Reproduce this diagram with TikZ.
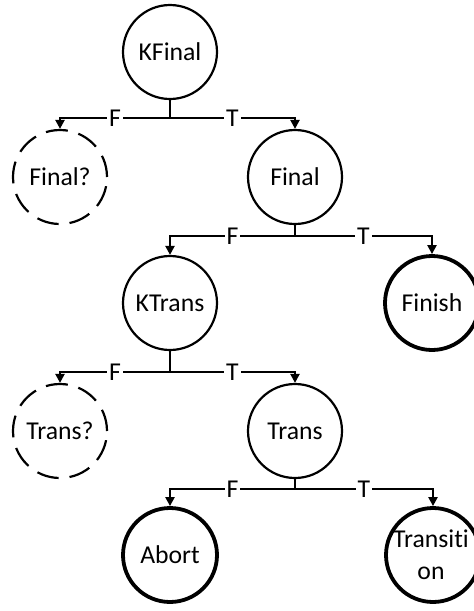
\documentclass[tikz,border=0pt]{standalone}
\usepackage{fontspec}
\setmainfont{Carlito}[Ligatures={NoCommon}]
\usetikzlibrary{arrows.meta}
\begin{document}
\begin{tikzpicture}[x=1pt,y=-1pt,
 st/.style={circle,draw,line width=2.2pt,minimum size=94pt,inner sep=0pt,font=\fontsize{25.7}{32}\selectfont,align=center},
 term/.style={st,line width=3.8pt},
 unk/.style={st,dash pattern=on 22pt off 11pt},
 lbl/.style={fill=white,inner xsep=2pt,inner ysep=0.5pt,font=\fontsize{25.7}{28}\selectfont},
 conn/.style={line width=2.2pt},
 arr/.style={conn,-{Triangle[width=9pt,length=9pt]}}]
\useasboundingbox (0,0) rectangle (474,611);
% nodes
\node[st] (kfinal) at (170,52) {KFinal};
\node[unk] (finalq) at (60,177) {Final?};
\node[st] (final) at (295,177) {Final};
\node[st] (ktrans) at (170,303) {KTrans};
\node[term] (finish) at (432,303) {Finish};
\node[unk] (transq) at (60,431) {Trans?};
\node[st] (trans) at (295,431) {Trans};
\node[term] (abort) at (170,555) {Abort};
\node[term] (transition) at (433,555) {};
\node[font=\fontsize{25.7}{32}\selectfont,align=center,inner sep=0pt] (transtext) at (431,555) {Transiti\\on};
% bus points
\coordinate (b1) at (170,118);
\coordinate (b2) at (295,236);
\coordinate (b3) at (170,372);
\coordinate (b4) at (295,489);
% connectors
\draw[conn] (kfinal) -- (b1);
\draw[arr] (b1) -| node[lbl,pos=0.25]{F} (finalq);
\draw[arr] (b1) -| node[lbl,pos=0.25]{T} (final);
\draw[conn] (final) -- (b2);
\draw[arr] (b2) -| node[lbl,pos=0.25]{F} (ktrans);
\draw[arr] (b2) -| node[lbl,pos=0.25]{T} (finish.north);
\draw[conn] (ktrans) -- (b3);
\draw[arr] (b3) -| node[lbl,pos=0.25]{F} (transq);
\draw[arr] (b3) -| node[lbl,pos=0.25]{T} (trans);
\draw[conn] (trans) -- (b4);
\draw[arr] (b4) -| node[lbl,pos=0.25]{F} (abort);
\draw[arr] (b4) -| node[lbl,pos=0.25]{T} (transition);
\end{tikzpicture}
\end{document}
